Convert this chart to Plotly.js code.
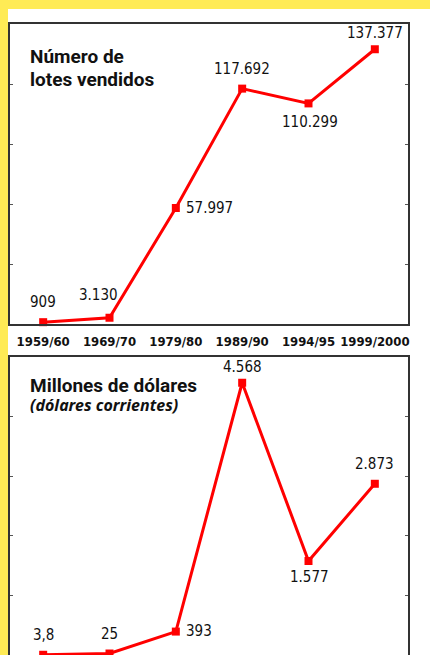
<!DOCTYPE html>
<html>
<head>
<meta charset="utf-8">
<script src="https://cdn.plot.ly/plotly-3.0.1.min.js"></script>
<style>
html,body{margin:0;padding:0;background:#fff;overflow:hidden;}
#chart{width:430px;height:655px;}
</style>
</head>
<body>
<div id="chart"></div>
<script>
// ---- data ----
var periods = ["1959/60", "1969/70", "1979/80", "1989/90", "1994/95", "1999/2000"];
var lotes = [909, 3130, 57997, 117692, 110299, 137377];
var millones = [3.8, 25, 393, 4568, 1577, 2873];
var lotesLabelPos = ["top", "topleft", "right", "top", "bottom", "topnear"];
var millonesLabelPos = ["top", "top", "rightlow", "topnear", "bottomnear", "top"];
var title1a = "Número de";
var title1b = "lotes vendidos";
var title2a = "Millones de dólares";
var title2b = "(dólares corrientes)";

// ---- helpers ----
function fmtES(v) {
  var parts = String(v).split(".");
  var ip = parts[0];
  if (ip.length >= 4) ip = ip.replace(/\B(?=(\d{3})+(?!\d))/g, ".");
  return parts.length > 1 ? ip + "," + parts[1] : ip;
}
var W = 430, H = 655;
function py(p) { return 1 - p / H; }
function px(p) { return p / W; }

var RED = "#ff0000";
var NARROW = "'Liberation Sans Narrow', 'DejaVu Sans Condensed', 'Arial Narrow', sans-serif";
var TITLEF = "Roboto, 'Noto Sans', sans-serif";
var ITALF = "'Noto Sans', 'Open Sans', sans-serif";

var offsets = {
  top: {xs: 0, ys: 20, xa: "center"},
  topnear: {xs: 0, ys: 16, xa: "center"},
  topleft: {xs: -11, ys: 23, xa: "center"},
  right: {xs: 8, ys: 0, xa: "left"},
  rightlow: {xs: 8, ys: 1, xa: "left"},
  bottom: {xs: 1, ys: -19, xa: "center"},
  bottomnear: {xs: 1, ys: -16, xa: "center"}
};

var traces = [
  {x: periods, y: lotes, type: "scatter", mode: "lines+markers", xaxis: "x", yaxis: "y",
   line: {color: RED, width: 3}, marker: {symbol: "square", size: 8, color: RED},
   cliponaxis: false, hoverinfo: "skip"},
  {x: periods, y: millones, type: "scatter", mode: "lines+markers", xaxis: "x2", yaxis: "y2",
   line: {color: RED, width: 3}, marker: {symbol: "square", size: 8, color: RED},
   cliponaxis: false, hoverinfo: "skip"}
];

var annotations = [];
function addLabels(vals, pos, xr, yr) {
  for (var i = 0; i < vals.length; i++) {
    var o = offsets[pos[i]];
    annotations.push({
      x: periods[i], y: vals[i], xref: xr, yref: yr, text: fmtES(vals[i]),
      showarrow: false, xshift: o.xs, yshift: o.ys, xanchor: o.xa, yanchor: "middle",
      font: {family: NARROW, size: 15, color: "#111"}
    });
  }
}
addLabels(lotes, lotesLabelPos, "x", "y");
addLabels(millones, millonesLabelPos, "x2", "y2");

function titleAnn(text, x, y, fam, size) {
  annotations.push({
    xref: "paper", yref: "paper", x: px(x), y: py(y), xanchor: "left", yanchor: "middle",
    align: "left", showarrow: false, text: text,
    font: {family: fam, size: size, color: "#111"}
  });
}
titleAnn("<b>" + title1a + "</b>", 28, 57, TITLEF, 19);
titleAnn("<b>" + title1b + "</b>", 28, 80, TITLEF, 19);
titleAnn("<b>" + title2a + "</b>", 28, 385, TITLEF, 19);
titleAnn("<b><i>" + title2b + "</i></b>", 28, 405, ITALF, 16);

var frameAxis = {
  showline: true, mirror: "ticks", linecolor: "#333", linewidth: 2,
  showgrid: false, zeroline: false, fixedrange: true
};

var layout = {
  width: W, height: H,
  margin: {l: 0, r: 0, t: 0, b: 0, pad: 0},
  paper_bgcolor: "#fff", plot_bgcolor: "#fff",
  showlegend: false,
  xaxis: Object.assign({}, frameAxis, {
    domain: [px(10), px(408)], anchor: "y", type: "category", range: [-0.5, 5.5],
    ticks: "", showticklabels: true, ticklabelstandoff: 4,
    tickfont: {family: NARROW, size: 13, color: "#111", weight: "bold"}
  }),
  xaxis2: {
    domain: [px(10), px(408)], anchor: "y2", type: "category", range: [-0.5, 5.5],
    side: "top", showline: true, mirror: false, linecolor: "#333", linewidth: 2,
    showgrid: false, zeroline: false, ticks: "", showticklabels: false, fixedrange: true
  },
  yaxis: Object.assign({}, frameAxis, {
    domain: [py(324), py(24)], anchor: "x", range: [0, 150000],
    ticks: "inside", ticklen: 3, tickwidth: 1, tickcolor: "#555", dtick: 30000, tick0: 0,
    showticklabels: false
  }),
  yaxis2: Object.assign({}, frameAxis, {
    domain: [0, py(357)], anchor: "x2", range: [0, 5000],
    ticks: "inside", ticklen: 3, tickwidth: 1, tickcolor: "#555", dtick: 1000, tick0: 0,
    showticklabels: false
  }),
  shapes: [
    {type: "rect", xref: "paper", yref: "paper", x0: 0, x1: 1, y0: py(9), y1: 1,
     fillcolor: "#ffeb55", line: {width: 0}, layer: "above"},
    {type: "rect", xref: "paper", yref: "paper", x0: 0, x1: px(8), y0: 0, y1: 1,
     fillcolor: "#ffeb55", line: {width: 0}, layer: "above"}
  ],
  annotations: annotations
};

Plotly.newPlot("chart", traces, layout, {staticPlot: true, displayModeBar: false});
</script>
</body>
</html>
